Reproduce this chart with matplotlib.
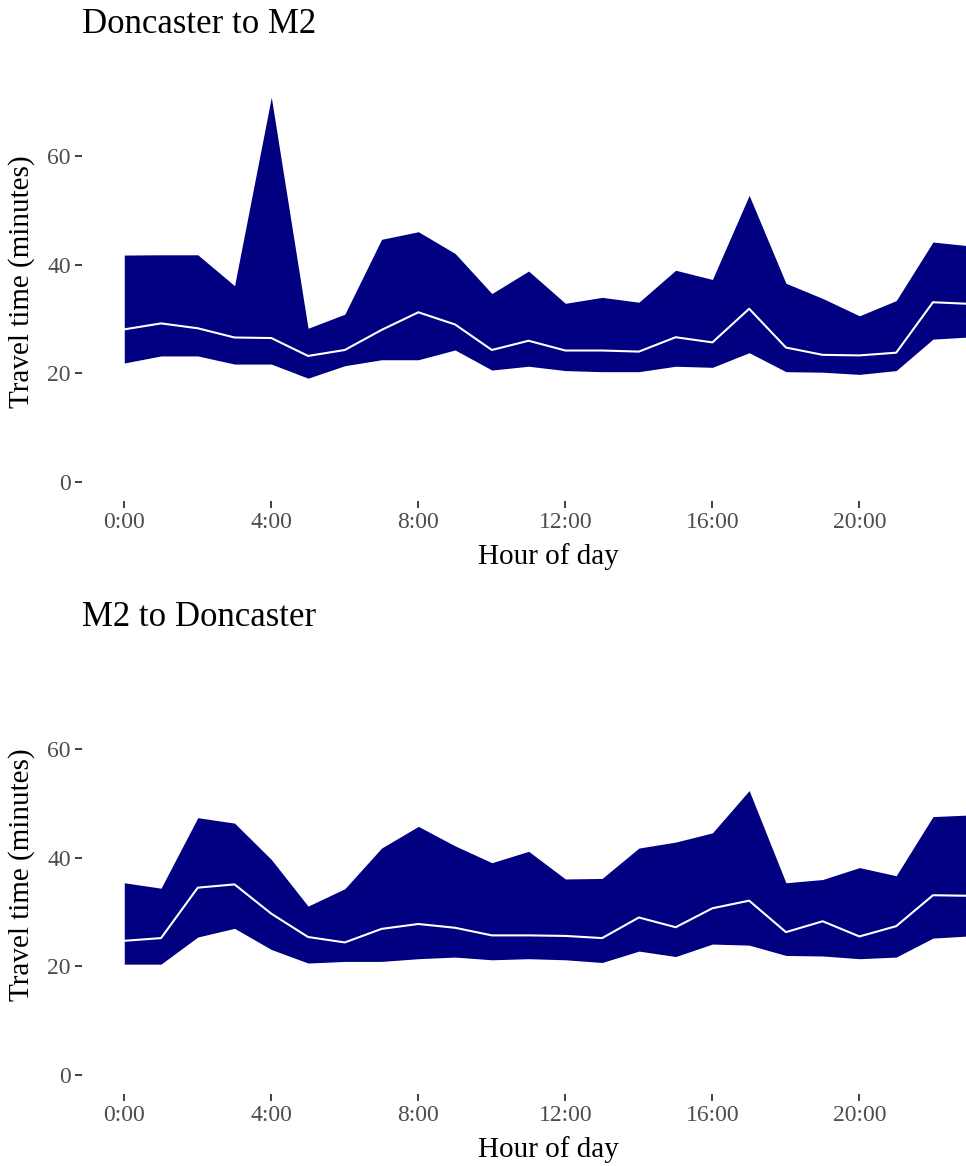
import numpy as np
import matplotlib
matplotlib.use("Agg")
import matplotlib.pyplot as plt

plt.rcParams['font.family'] = ['Liberation Serif', 'DejaVu Serif']

# hour of day
hours = np.arange(24)
tick_hours = [0, 4, 8, 12, 16, 20]
tick_labels = ["0:00", "4:00", "8:00", "12:00", "16:00", "20:00"]

# Doncaster to M2: lower / median / upper travel time (minutes)
dm_lower = [21.9, 23.2, 23.2, 21.7, 21.7, 19.1, 21.4, 22.5, 22.5, 24.3, 20.6, 21.3,
            20.5, 20.3, 20.3, 21.3, 21.1, 23.8, 20.3, 20.2, 19.8, 20.5, 26.3, 26.7]
dm_median = [28.1, 29.2, 28.3, 26.6, 26.5, 23.2, 24.3, 28.0, 31.25, 29.0, 24.3, 26.0,
             24.2, 24.2, 24.0, 26.65, 25.7, 31.9, 24.75, 23.4, 23.3, 23.8, 33.1, 32.8]
dm_upper = [41.8, 41.85, 41.85, 36.15, 70.9, 28.3, 30.9, 44.7, 46.1, 42.1, 34.7, 38.85,
            32.9, 34.0, 33.1, 39.0, 37.3, 52.8, 36.6, 33.8, 30.6, 33.4, 44.2, 43.5]

# M2 to Doncaster
md_lower = [20.4, 20.4, 25.4, 27.0, 23.1, 20.6, 20.9, 20.9, 21.4, 21.7, 21.2, 21.4,
            21.2, 20.7, 22.8, 21.8, 24.1, 23.9, 22.0, 21.9, 21.4, 21.7, 25.2, 25.6]
md_median = [24.7, 25.2, 34.5, 35.1, 29.7, 25.4, 24.4, 26.9, 27.8, 27.1, 25.7, 25.7,
             25.6, 25.2, 29.0, 27.2, 30.7, 32.1, 26.3, 28.3, 25.5, 27.4, 33.1, 33.0]
md_upper = [35.4, 34.4, 47.4, 46.4, 39.7, 31.1, 34.3, 41.8, 45.8, 42.2, 39.1, 41.2,
            36.1, 36.2, 41.8, 42.9, 44.6, 52.4, 35.4, 36.0, 38.2, 36.7, 47.6, 47.9]

W, H = 966, 1166
fig = plt.figure(figsize=(W / 100, H / 100), dpi=100)

ymax = max(dm_upper)
ylim = (-0.05 * ymax, 1.05 * ymax)
xlim = (-0.05 * 23, 23 * 1.05)

panels = [
    ("Doncaster to M2", dm_lower, dm_median, dm_upper, 78, 501, 0),
    ("M2 to Doncaster", md_lower, md_median, md_upper, 671, 1094, 593),
]

for title, lo, med, up, top, bottom, off in panels:
    left_px, right_px = 82, 1012
    ax = fig.add_axes([left_px / W, 1 - bottom / H, (right_px - left_px) / W, (bottom - top) / H])
    ax.fill_between(hours, lo, up, color="#000080", linewidth=0)
    ax.plot(hours, med, color="white", linewidth=1.5)
    ax.set_xlim(xlim)
    ax.set_ylim(ylim)
    ax.set_xticks(tick_hours)
    ax.set_xticklabels(tick_labels)
    ax.set_yticks([0, 20, 40, 60])
    for s in ax.spines.values():
        s.set_visible(False)
    ax.tick_params(direction="out", length=5, width=1.3, color="#333333",
                   labelcolor="#4D4D4D", labelsize=17, pad=3)
    fig.text(82 / W, 1 - (33 + off) / H, title, fontsize=25, va="baseline", ha="left")
    fig.text(548 / W, 1 - (557 + off) / H, "Hour of day", fontsize=21, va="center", ha="center")
    fig.text(22 / W, 1 - (282 + off) / H, "Travel time (minutes)", fontsize=21,
             va="center", ha="center", rotation=90)

fig.savefig("out.png", dpi=100)
